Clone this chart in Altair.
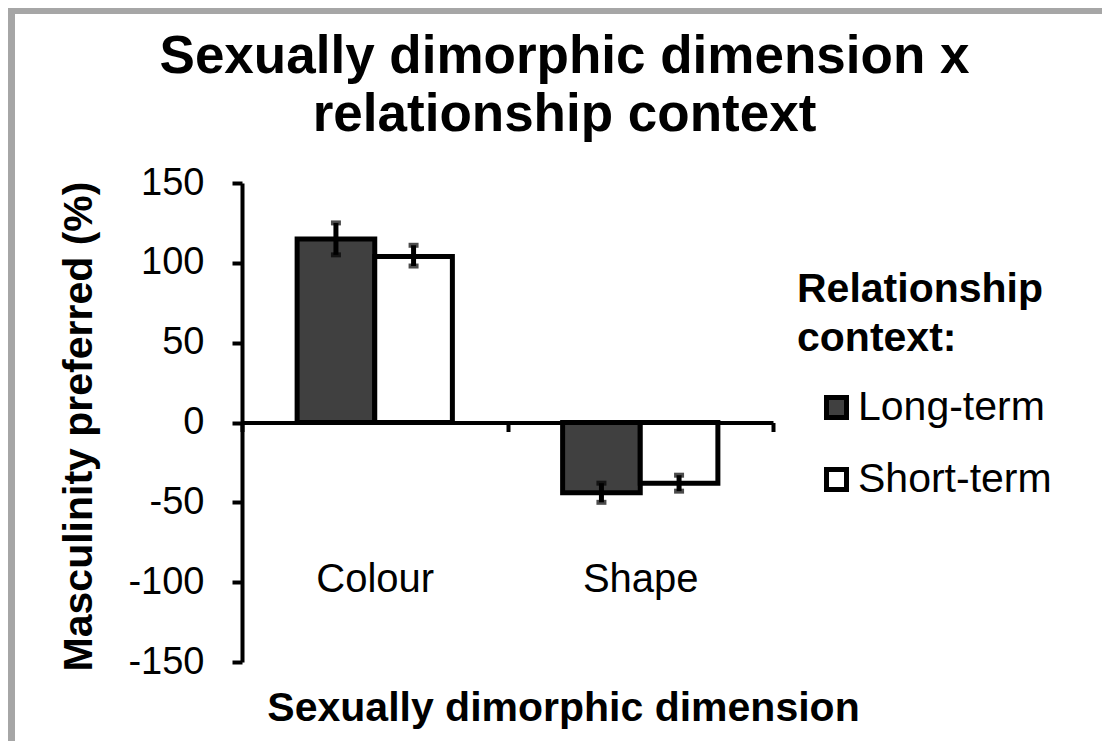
import altair as alt
import pandas as pd

# ---- data ----
dimension = ["Colour", "Colour", "Shape", "Shape"]
context = ["Long-term", "Short-term", "Long-term", "Short-term"]
means = [115, 104, -44, -38]
err_low = [105, 98, -50, -43]
err_high = [125, 111, -38, -33]

y_ticks = [-150, -100, -50, 0, 50, 100, 150]
context_order = ["Long-term", "Short-term"]
context_colors = ["#404040", "#ffffff"]

df = pd.DataFrame({
    "dimension": dimension,
    "context": context,
    "mean": means,
    "low": err_low,
    "high": err_high,
})

FONT = "Liberation Sans"

x_enc = alt.X(
    "dimension:N",
    sort=["Colour", "Shape"],
    scale=alt.Scale(paddingInner=0, paddingOuter=0),
    axis=alt.Axis(
        title="Sexually dimorphic dimension",
        titleFontSize=41,
        titleFontWeight="bold",
        titleFont=FONT,
        titleColor="black",
        titleX=321,
        titleY=286,
        titleBaseline="middle",
        titleAlign="center",
        labelFontSize=40,
        labelFont=FONT,
        labelColor="black",
        labelAngle=0,
        labelPadding=128,
        offset=-239.5,
        domainColor="black",
        domainWidth=4,
        tickColor="black",
        tickWidth=4,
        tickSize=9,
        tickBand="extent",
        grid=False,
    ),
)
xoff_enc = alt.XOffset(
    "context:N",
    sort=context_order,
    scale=alt.Scale(paddingInner=0, paddingOuter=0.71),
)
y_scale = alt.Scale(domain=[-150, 150], nice=False)

bars = alt.Chart(df).mark_bar(stroke="black", strokeWidth=5).encode(
    x=x_enc,
    xOffset=xoff_enc,
    y=alt.Y(
        "mean:Q",
        scale=y_scale,
        axis=alt.Axis(
            title="Masculinity preferred (%)",
            titleFontSize=41,
            titleFontWeight="bold",
            titleFont=FONT,
            titleColor="black",
            titleAngle=270,
            titleX=-163,
            titleY=243,
            titleBaseline="middle",
            titleAlign="center",
            values=y_ticks,
            labelExpr="'' + datum.value",
            labelFontSize=38,
            labelFont=FONT,
            labelColor="black",
            labelPadding=28,
            domainColor="black",
            domainWidth=4,
            tickColor="black",
            tickWidth=4,
            tickSize=10,
            grid=False,
        ),
    ),
    fill=alt.Fill(
        "context:N",
        sort=context_order,
        scale=alt.Scale(domain=context_order, range=context_colors),
        legend=alt.Legend(
            title=["Relationship", "context:"],
            titleFontSize=41,
            titleFontWeight="bold",
            titleFont=FONT,
            titleColor="black",
            titleLineHeight=49,
            titlePadding=27,
            titleLimit=0,
            labelFontSize=41,
            labelFont=FONT,
            labelColor="black",
            labelOffset=1,
            labelLimit=0,
            symbolType="square",
            symbolSize=400,
            symbolStrokeColor="black",
            symbolStrokeWidth=5,
            symbolOffset=19,
            rowPadding=30,
            padding=0,
            orient="none",
            legendX=555,
            legendY=87,
        ),
    ),
)

rules = alt.Chart(df).mark_rule(color="black", strokeWidth=5).encode(
    x=alt.X("dimension:N", sort=["Colour", "Shape"]),
    xOffset=alt.XOffset("context:N", sort=context_order),
    y=alt.Y("low:Q", scale=y_scale),
    y2="high:Q",
)
caps_low = alt.Chart(df).mark_tick(color="black", orient="horizontal", size=10, thickness=5).encode(
    x=alt.X("dimension:N", sort=["Colour", "Shape"]),
    xOffset=alt.XOffset("context:N", sort=context_order),
    y=alt.Y("low:Q", scale=y_scale),
)
caps_high = alt.Chart(df).mark_tick(color="black", orient="horizontal", size=10, thickness=5).encode(
    x=alt.X("dimension:N", sort=["Colour", "Shape"]),
    xOffset=alt.XOffset("context:N", sort=context_order),
    y=alt.Y("high:Q", scale=y_scale),
)

# decorative grey frame of the original figure (left and top edges)
frame_data = alt.Data(values=[{"k": 1}])
frame_left = alt.Chart(frame_data).mark_rect(color="#a6a6a6").encode(
    x=alt.value(-234), x2=alt.value(-227), y=alt.value(-175), y2=alt.value(560)
)
frame_top = alt.Chart(frame_data).mark_rect(color="#a6a6a6").encode(
    x=alt.value(-234), x2=alt.value(860), y=alt.value(-175), y2=alt.value(-169)
)

chart = alt.layer(frame_left, frame_top, bars, rules, caps_low, caps_high).properties(
    width=531,
    height=479,
    autosize=alt.AutoSizeParams(type="none"),
    padding={"left": 234, "top": 175, "right": 329, "bottom": 79},
    background="white",
    title=alt.TitleParams(
        text=["Sexually dimorphic dimension x", "relationship context"],
        fontSize=53,
        fontWeight="bold",
        font=FONT,
        color="black",
        anchor="middle",
        lineHeight=58,
        dx=57,
        dy=134,
        offset=0,
    ),
).configure_view(stroke=None)

chart.save("out.html", embed_options={"renderer": "svg", "actions": False})
